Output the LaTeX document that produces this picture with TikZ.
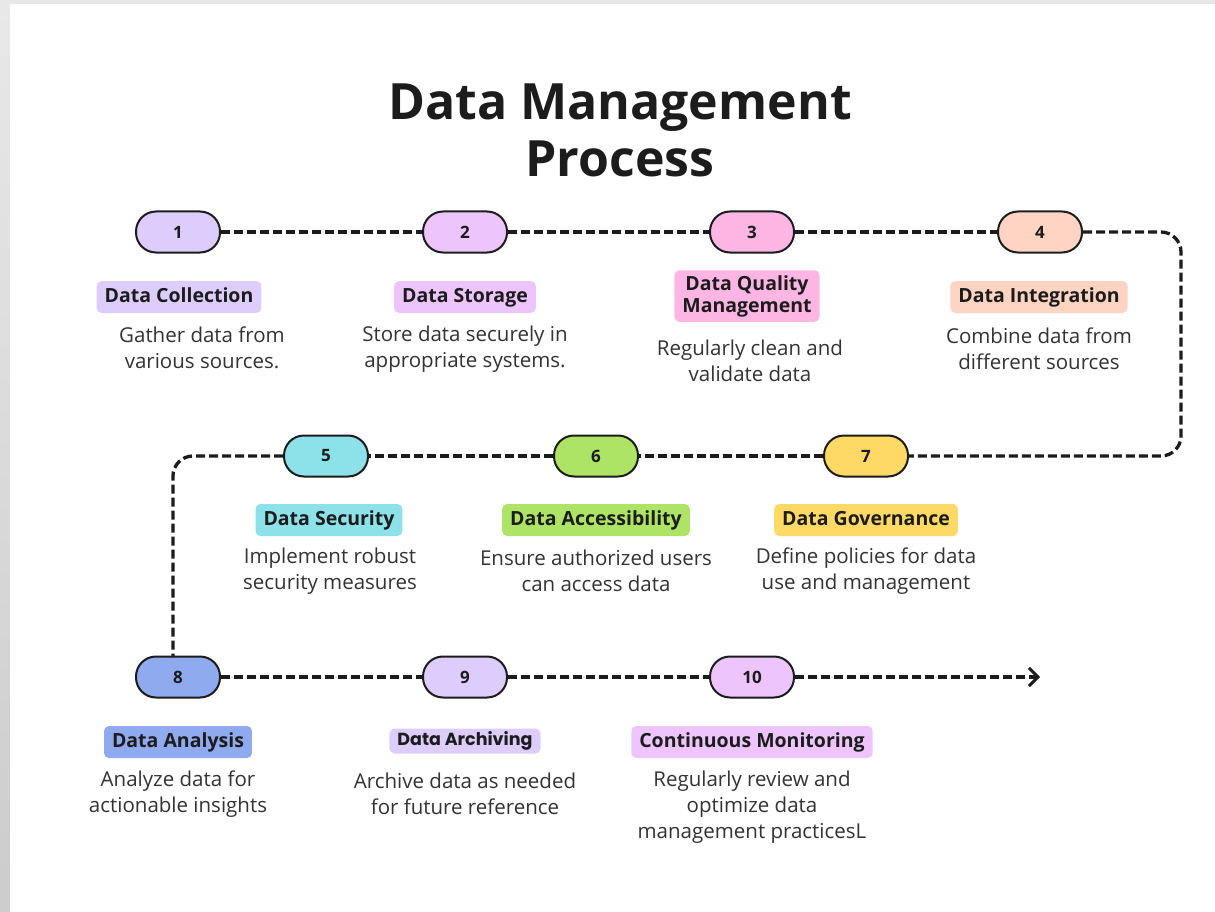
\documentclass[tikz,border=0pt]{standalone}
\usepackage{fontspec}
\setmainfont{Open Sans}
\newfontfamily\archfont{Poppins}
\usetikzlibrary{arrows.meta}

\definecolor{ink}{HTML}{1C1C1C}
\definecolor{txt}{HTML}{333333}
\definecolor{lavender}{HTML}{DDCDFD}
\definecolor{orchid}{HTML}{EDC5FC}
\definecolor{rosy}{HTML}{FDB6E4}
\definecolor{peach}{HTML}{FDD4C2}
\definecolor{aqua}{HTML}{8CE2E8}
\definecolor{lime}{HTML}{AEE466}
\definecolor{sun}{HTML}{FFD966}
\definecolor{sky}{HTML}{8FAAEF}

\begin{document}
\begin{tikzpicture}[x=1pt,y=-1pt,
    pill/.style={draw=ink,line width=2pt,rounded corners=20pt,minimum width=84pt,
      minimum height=41pt,inner sep=0pt,text=ink,font=\fontsize{17}{20}\selectfont\bfseries},
    tagbox/.style={rounded corners=5pt,inner xsep=8pt,text=ink,font=\fontsize{19.5}{22}\selectfont\bfseries},
    tag/.style={tagbox,inner ysep=7pt,text height=14pt,text depth=4pt},
    desc/.style={align=center,text=txt,font=\fontsize{20.5}{26}\selectfont},
    flow/.style={draw=ink,line width=3.3pt,dash pattern=on 9pt off 4pt}]
    % page
    \fill [gray!18] (0,0) rectangle (1215,912);
    \shade [top color=gray!18,bottom color=gray!40] (0,4) rectangle (10,912);
    \fill [white] (10,4) rectangle (1215,912);
    \useasboundingbox (0,0) rectangle (1215,912);
    %
    \node (title) [align=center,text=ink,font=\fontsize{50}{57}\selectfont\bfseries]
      at (620,130) {Data Management\\Process};
    %
    \node (p1) [pill,fill=lavender] at (178,232) {1};
    \node (p2) [pill,fill=orchid]   at (465,232) {2};
    \node (p3) [pill,fill=rosy]     at (752,232) {3};
    \node (p4) [pill,fill=peach]    at (1040,232) {4};
    %
    \node (p5) [pill,fill=aqua]     at (326,456) {5};
    \node (p6) [pill,fill=lime]     at (596,456) {6};
    \node (p7) [pill,fill=sun]      at (866,456) {7};
    %
    \node (p8)  [pill,fill=sky]      at (178,677) {8};
    \node (p9)  [pill,fill=lavender] at (465,677) {9};
    \node (p10) [pill,fill=orchid]   at (752,677) {10};
    %
    \coordinate (c4) at (1181,232); \coordinate (c7) at (1181,456);
    \coordinate (c5) at (173,456);  \coordinate (c8) at (173,657);
    \coordinate (end) at (1040,677);
    \draw [flow] (p1) -- (p2); \draw [flow] (p2) -- (p3); \draw [flow] (p3) -- (p4);
    \draw [flow,rounded corners=20pt] (p4.east) -- (c4) -- (c7) -- (p7.east);
    \draw [flow] (p7) -- (p6); \draw [flow] (p6) -- (p5);
    \draw [flow,rounded corners=20pt] (p5.west) -- (c5) -- (c8);
    \draw [flow] (p8) -- (p9); \draw [flow] (p9) -- (p10);
    \draw [flow,-{Straight Barb[length=9pt,width=18pt,line width=3pt]}] (p10.east) -- (end);
    %
    \node (t1) [tag,fill=lavender] at (179,297) {Data Collection};
    \node (t2) [tag,fill=orchid]   at (465,297) {Data Storage};
    \node (t3) [tagbox,fill=rosy,align=center,inner ysep=5pt] at (747,296) {Data Quality\\Management};
    \node (t4) [tag,fill=peach]    at (1039,297) {Data Integration};
    %
    \node (d1) [desc] at (202,348) {Gather data from\\various sources.};
    \node (d2) [desc] at (465,349) {Store data securely in\\appropriate systems.};
    \node (d3) [desc] at (750,361) {Regularly clean and\\validate data};
    \node (d4) [desc] at (1039,349) {Combine data from\\different sources};
    %
    \node (t5) [tag,fill=aqua] at (329,520) {Data Security};
    \node (t6) [tag,fill=lime] at (596,520) {Data Accessibility};
    \node (t7) [tag,fill=sun]  at (866,520) {Data Governance};
    %
    \node (d5) [desc] at (330,571) {Implement robust\\security measures};
    \node (d6) [desc] at (596,571) {Ensure authorized users\\can access data};
    \node (d7) [desc] at (866,571) {Define policies for data\\use and management};
    %
    \node (t8)  [tag,fill=sky] at (178,742) {Data Analysis};
    \node (t9)  [tagbox,fill=lavender,inner ysep=5pt,text height=12pt,text depth=3pt,
      font=\fontsize{17.5}{20}\archfont\bfseries] at (465,741) {Data Archiving};
    \node (t10) [tag,fill=orchid] at (752,742) {Continuous Monitoring};
    %
    \node (d8)  [desc] at (178,794) {Analyze data for\\actionable insights};
    \node (d9)  [desc] at (465,794) {Archive data as needed\\for future reference};
    \node (d10) [desc] at (752,807) {Regularly review and\\optimize data\\management practicesL};
  \end{tikzpicture}
\end{document}
